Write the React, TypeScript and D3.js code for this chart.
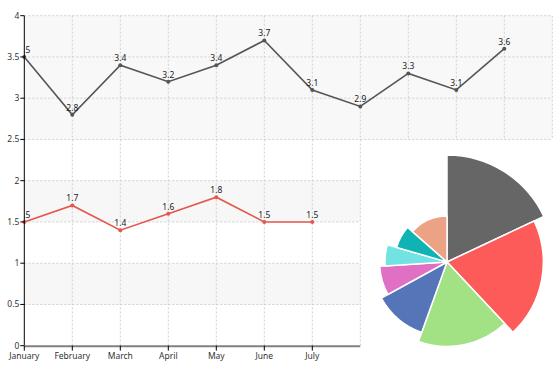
import React from "react";
import * as d3 from "d3";

const categories = ["January", "February", "March", "April", "May", "June", "July"];
const topSeries = [3.5, 2.8, 3.4, 3.2, 3.4, 3.7, 3.1, 2.9, 3.3, 3.1, 3.6];
const bottomSeries = [1.5, 1.7, 1.4, 1.6, 1.8, 1.5, 1.5];
const yTicks = [0, 0.5, 1, 1.5, 2, 2.5, 3, 3.5, 4];

// pie: angle share and radius value per slice
const pieShares = [18, 20, 17.5, 11.5, 7, 5.5, 7, 13.5];
const pieRadii = [100, 90, 79, 70, 63, 58, 49, 43];
const pieColors = ["#666666", "#fd5b5a", "#a2e184", "#5675b9", "#e070c3", "#72e2e3", "#10b3b4", "#eba285"];

const W = 560;
const H = 374;
const FONT = "'Noto Sans', 'DejaVu Sans', sans-serif";

export default function App() {
  const x = d3.scaleLinear().domain([0, 7]).range([24.3, 360.3]);
  const y = d3.scaleLinear().domain([0, 4]).range([345.7, 15.7]);

  const left = x(0);
  const rightBottom = x(7);
  const rightTop = x(11);
  const topBottom = y(2.5);

  const line = d3
    .line<number>()
    .x((_, i) => x(i))
    .y((d) => y(d));

  const pie = d3
    .pie<number>()
    .sort(null)
    .value((d) => d);
  const arcs = pie(pieShares);
  const r = d3.scaleLinear().domain([0, 100]).range([0, 107]);
  const arc = d3.arc<d3.PieArcDatum<number>>().innerRadius(0);

  const grid = "#cfcfcf";

  return (
    <div style={{ position: "absolute", left: 0, top: 0 }}>
      <svg width={W} height={H} style={{ display: "block", background: "#fff" }}>
        <defs>
          <clipPath id="plotClip">
            <rect x={left} y={0} width={rightTop - left} height={H} />
          </clipPath>
        </defs>

        {/* top chart background */}
        <rect x={left} y={y(4)} width={rightTop - left} height={topBottom - y(4)} fill="#f8f8f8" />
        {/* bottom chart bands */}
        {[
          [1.5, 2],
          [0.5, 1],
        ].map(([a, b], i) => (
          <rect key={i} x={left} y={y(b)} width={rightBottom - left} height={y(a) - y(b)} fill="#f7f7f7" />
        ))}

        {/* horizontal grid */}
        {yTicks.filter((t) => t > 0).map((t) => (
          <line
            key={t}
            x1={left}
            x2={t >= 2.5 ? rightTop : rightBottom}
            y1={y(t)}
            y2={y(t)}
            stroke={grid}
            strokeDasharray="2,2"
          />
        ))}
        {/* vertical grid: top chart */}
        {d3.range(1, 12).map((i) => (
          <line key={"vt" + i} x1={x(i)} x2={x(i)} y1={y(4)} y2={topBottom} stroke={grid} strokeDasharray="2,2" />
        ))}
        {/* vertical grid: bottom chart */}
        {d3.range(1, 8).map((i) => (
          <line key={"vb" + i} x1={x(i)} x2={x(i)} y1={topBottom} y2={y(0)} stroke={grid} strokeDasharray="2,2" />
        ))}

        {/* series */}
        <path d={line(topSeries) || ""} fill="none" stroke="#555555" strokeWidth={1.6} />
        <path d={line(bottomSeries) || ""} fill="none" stroke="#e5574d" strokeWidth={1.6} />
        {topSeries.map((v, i) => (
          <circle key={"pt" + i} cx={x(i)} cy={y(v)} r={2} fill="#555555" />
        ))}
        {bottomSeries.map((v, i) => (
          <circle key={"pb" + i} cx={x(i)} cy={y(v)} r={2} fill="#e5574d" />
        ))}
        <g clipPath="url(#plotClip)" fontFamily={FONT} fontSize={8.5} fill="#222" textAnchor="middle">
          {topSeries.map((v, i) => (
            <text key={"lt" + i} x={x(i)} y={y(v) - 4}>
              {v}
            </text>
          ))}
          {bottomSeries.map((v, i) => (
            <text key={"lb" + i} x={x(i)} y={y(v) - 4}>
              {v}
            </text>
          ))}
        </g>

        {/* y axis */}
        <line x1={left} x2={left} y1={y(4)} y2={y(0)} stroke="#000" strokeWidth={1} />
        {yTicks.map((t) => (
          <g key={"yt" + t}>
            <line x1={left - 4} x2={left} y1={y(t)} y2={y(t)} stroke="#000" />
            <text
              x={left - 5}
              y={y(t)}
              dy="0.35em"
              textAnchor="end"
              fontFamily={FONT}
              fontSize={8.5}
              fill="#333"
            >
              {t}
            </text>
          </g>
        ))}

        {/* x axis */}
        <line x1={left} x2={rightBottom} y1={y(0) + 0.5} y2={y(0) + 0.5} stroke="#808080" strokeWidth={2} />
        {categories.map((c, i) => (
          <g key={c}>
            <line x1={x(i)} x2={x(i)} y1={y(0)} y2={y(0) + 5} stroke="#000" />
            <text x={x(i)} y={y(0) + 13.5} textAnchor="middle" fontFamily={FONT} fontSize={8.5} fill="#333">
              {c}
            </text>
          </g>
        ))}

        {/* variable radius pie */}
        <g transform="translate(447,262)">
          {arcs.map((a, i) => (
            <path
              key={"s" + i}
              d={arc.outerRadius(r(pieRadii[i]))(a) || ""}
              fill={pieColors[i]}
              stroke="#fff"
              strokeWidth={1.5}
            />
          ))}
        </g>
      </svg>
    </div>
  );
}
